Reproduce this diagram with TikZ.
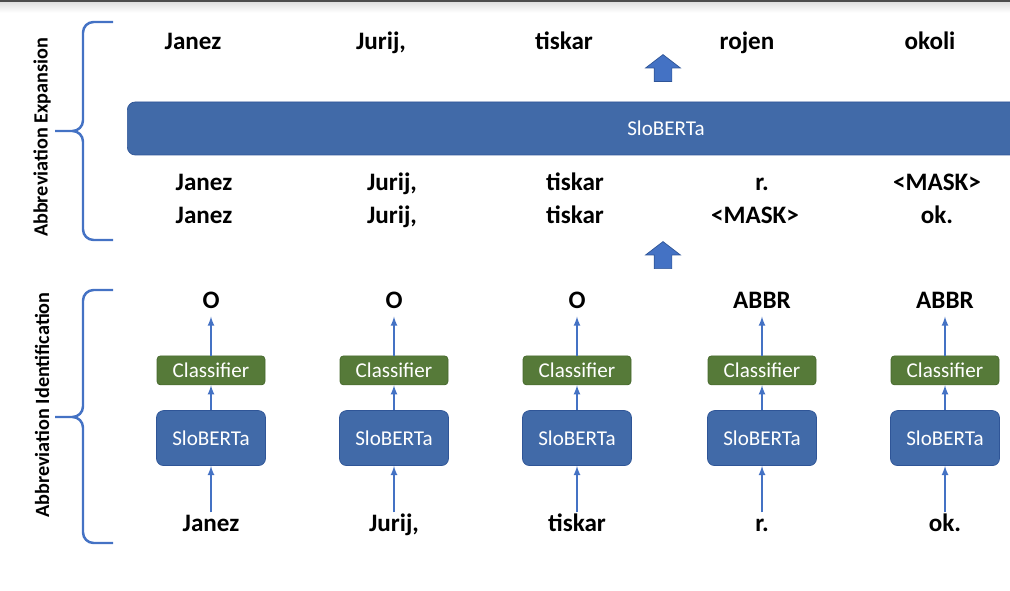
\documentclass[tikz,border=0pt]{standalone}
\usepackage{fontspec}
\setmainfont{Carlito}
\usetikzlibrary{positioning}
\usetikzlibrary{arrows}
\usetikzlibrary{shapes.arrows}
\definecolor{bertblue}{RGB}{65,106,168}
\definecolor{bertedge}{RGB}{47,85,151}
\definecolor{clsgreen}{RGB}{86,122,57}
\definecolor{clsedge}{RGB}{70,104,45}
\definecolor{linkblue}{RGB}{68,114,196}
\tikzset{>=latex}
\tikzset{word/.style={font=\fontsize{14.3}{17}\selectfont\bfseries, text height=1.5ex, text depth=.25ex}}
\tikzset{bert/.style={draw=bertedge, fill=bertblue, rounded corners=4pt, minimum width=2.18cm, minimum height=1.1cm, text=white, font=\fontsize{12}{14}\selectfont}}
\tikzset{cls/.style={draw=clsedge, fill=clsgreen, rounded corners=2pt, minimum width=2.16cm, minimum height=0.58cm, inner sep=0pt, text=white, font=\fontsize{12}{14}\selectfont}}
\tikzset{bar/.style={draw=bertedge, fill=bertblue, rounded corners=4.5pt, minimum width=18cm, minimum height=1.06cm, anchor=west}}
\tikzset{lnk/.style={->, linkblue, line width=0.8pt}}
\tikzset{brc/.style={draw=linkblue, line width=1.4pt, rounded corners=6pt}}
\tikzset{bigarrow/.style={single arrow, draw=bertedge, fill=linkblue, rotate=90, minimum height=0.54cm, minimum width=0.68cm, single arrow head extend=0.17cm, single arrow tip angle=105, inner xsep=0pt, inner ysep=0.17cm}}
\tikzset{side/.style={rotate=90, font=\fontsize{11.5}{14}\selectfont\bfseries}}

\begin{document}
\begin{tikzpicture}
\useasboundingbox (0,0) rectangle (20.2,11.8);
% window edge
\fill[black!70] (0,11.75) rectangle (20.2,11.8);
\shade[top color=black!12, bottom color=white] (0,11.55) rectangle (20.2,11.75);

% braces
\draw[brc] (2.26,11.36) -- (1.66,11.36) -- (1.66,9.18) -- (1.1,9.18)
  (2.26,7.0) -- (1.66,7.0) -- (1.66,9.18) -- (1.1,9.18);
\draw[brc] (2.26,6.0) -- (1.66,6.0) -- (1.66,3.46) -- (1.1,3.46)
  (2.26,0.94) -- (1.66,0.94) -- (1.66,3.46) -- (1.1,3.46);
\node[side] (exp) at (0.84,9.05) {Abbreviation Expansion};
\node[side] (ident) at (0.84,3.7) {Abbreviation Identification};

% identification
\node[word] (in1) at (4.22,1.28) {Janez};
\node[bert, above=0.93 of in1] (b1) {SloBERTa};
\node[cls, above=0.5 of b1] (c1) {Classifier};
\node[word, above=0.78 of c1] (o1) {O};
\node[word] (in2) at (7.88,1.28) {Jurij,};
\node[bert, above=0.93 of in2] (b2) {SloBERTa};
\node[cls, above=0.5 of b2] (c2) {Classifier};
\node[word, above=0.78 of c2] (o2) {O};
\node[word] (in3) at (11.54,1.28) {tiskar};
\node[bert, above=0.93 of in3] (b3) {SloBERTa};
\node[cls, above=0.5 of b3] (c3) {Classifier};
\node[word, above=0.78 of c3] (o3) {O};
\node[word] (in4) at (15.24,1.28) {r.};
\node[bert, above=0.93 of in4] (b4) {SloBERTa};
\node[cls, above=0.5 of b4] (c4) {Classifier};
\node[word, above=0.78 of c4] (o4) {ABBR};
\node[word] (in5) at (18.9,1.28) {ok.};
\node[bert, above=0.93 of in5] (b5) {SloBERTa};
\node[cls, above=0.5 of b5] (c5) {Classifier};
\node[word, above=0.78 of c5] (o5) {ABBR};

\draw[lnk] (in1) -- (b1);
\draw[lnk] (b1) -- (c1);
\draw[lnk] (c1) -- (o1);
\draw[lnk] (in2) -- (b2);
\draw[lnk] (b2) -- (c2);
\draw[lnk] (c2) -- (o2);
\draw[lnk] (in3) -- (b3);
\draw[lnk] (b3) -- (c3);
\draw[lnk] (c3) -- (o3);
\draw[lnk] (in4) -- (b4);
\draw[lnk] (b4) -- (c4);
\draw[lnk] (c4) -- (o4);
\draw[lnk] (in5) -- (b5);
\draw[lnk] (b5) -- (c5);
\draw[lnk] (c5) -- (o5);

\node[bigarrow] (up1) at (13.26,6.63) {};

% expansion
\node[word] (m1) at (4.08,7.44) {Janez};
\node[word] (m2) at (7.84,7.44) {Jurij,};
\node[word] (m3) at (11.5,7.44) {tiskar};
\node[word] (m4) at (15.1,7.44) {<MASK>};
\node[word] (m5) at (18.74,7.44) {ok.};
\node[word] (r1) at (4.08,8.1) {Janez};
\node[word] (r2) at (7.84,8.1) {Jurij,};
\node[word] (r3) at (11.5,8.1) {tiskar};
\node[word] (r4) at (15.24,8.1) {r.};
\node[word] (r5) at (18.74,8.1) {<MASK>};

\node[bar] (bar) at (2.54,9.23) {};
\node[text=white, font=\fontsize{12}{14}\selectfont] (bartxt) at (13.32,9.24) {SloBERTa};

\node[bigarrow] (up2) at (13.26,10.37) {};
\node[word] (e1) at (3.86,10.92) {Janez};
\node[word] (e2) at (7.62,10.92) {Jurij,};
\node[word] (e3) at (11.28,10.92) {tiskar};
\node[word] (e4) at (14.94,10.92) {rojen};
\node[word] (e5) at (18.6,10.92) {okoli};
\end{tikzpicture}
\end{document}
